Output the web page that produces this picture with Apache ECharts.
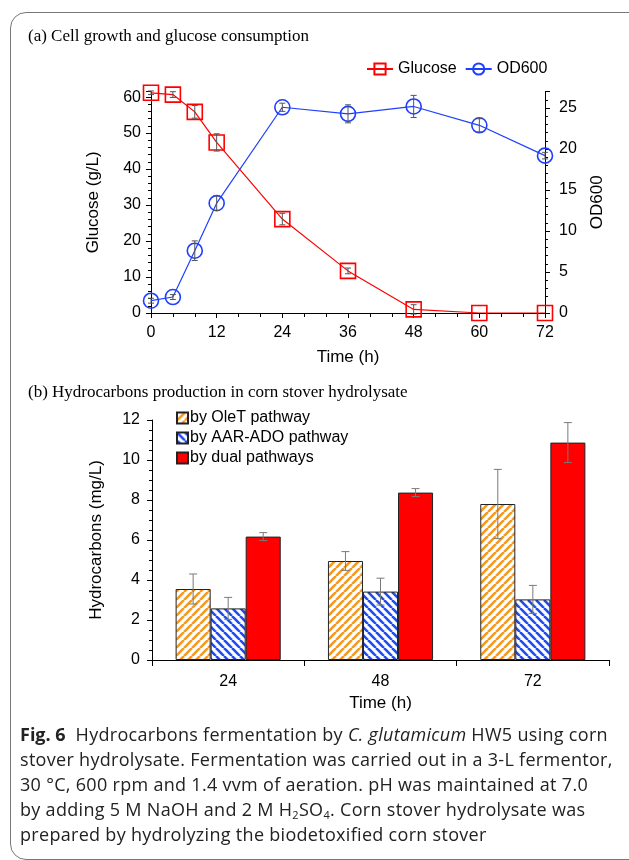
<!DOCTYPE html>
<html>
<head>
<meta charset="utf-8">
<script src="https://cdn.jsdelivr.net/npm/echarts@6/dist/echarts.min.js"></script>
<style>
  html, body { margin: 0; padding: 0; background: #fff; }
  #frame { position: absolute; left: 10px; top: 12px; width: 660px; height: 846px;
           border: 1.5px solid #777; border-radius: 16px; }
  #chart { position: absolute; left: 0; top: 0; width: 629px; height: 860px; }
  #caption { position: absolute; left: 20px; top: 722px; width: 605px;
             font-family: "Open Sans", sans-serif; font-size: 18px; line-height: 25px;
             color: #222; letter-spacing: 0.3px; white-space: nowrap; }
  #caption b { font-weight: 700; letter-spacing: 0; }
  #caption sub { font-size: 11px; line-height: 0; vertical-align: -3px; }
</style>
</head>
<body>
<div id="frame"></div>
<div id="chart"></div>
<div id="caption">
  <b>Fig. 6</b>&nbsp; Hydrocarbons fermentation by <i>C. glutamicum</i> HW5 using corn<br>
  stover hydrolysate. Fermentation was carried out in a 3-L fermentor,<br>
  30 °C, 600 rpm and 1.4 vvm of aeration. pH was maintained at 7.0<br>
  by adding 5 M NaOH and 2 M H<sub>2</sub>SO<sub>4</sub>. Corn stover hydrolysate was<br>
  prepared by hydrolyzing the biodetoxified corn stover
</div>
<script>
// (a) time course
var times = [0, 4, 8, 12, 24, 36, 48, 60, 72];
var glucose = [61.2, 60.7, 55.9, 47.4, 26.1, 11.7, 1.0, 0, 0];
var glucoseErr = [0.5, 0.8, 1.75, 2.4, 1.6, 0.8, 1.3, 0, 0];
var od600 = [1.5, 1.95, 7.6, 13.4, 25.1, 24.3, 25.2, 22.9, 19.2];
var od600Err = [0.3, 0.3, 1.2, 0.9, 0.5, 1.1, 1.35, 0.8, 0.4];

// (b) hydrocarbons
var hcTimes = ['24', '48', '72'];
var oleT = [3.55, 4.95, 7.8];
var oleTErr = [0.75, 0.47, 1.73];
var aarAdo = [2.58, 3.42, 3.03];
var aarAdoErr = [0.55, 0.67, 0.7];
var dual = [6.17, 8.37, 10.87];
var dualErr = [0.2, 0.2, 1.0];

var FONT = '"Liberation Sans", Arial, sans-serif';
var SERIF = '"Liberation Serif", "Times New Roman", serif';

function stripes(color, dir) {
  var c = document.createElement('canvas');
  c.width = 8; c.height = 8;
  var g = c.getContext('2d');
  g.fillStyle = '#fff';
  g.fillRect(0, 0, 8, 8);
  g.strokeStyle = color;
  g.lineWidth = 2.6;
  for (var i = -1; i <= 1; i++) {
    g.beginPath();
    if (dir > 0) { g.moveTo(i * 8, 8); g.lineTo(i * 8 + 8, 0); }
    else { g.moveTo(i * 8, 0); g.lineTo(i * 8 + 8, 8); }
    g.stroke();
  }
  return { image: c, repeat: 'repeat' };
}

function pairs(xs, ys, es) {
  return xs.map(function (x, i) { return [x, ys[i], es[i]]; });
}

function errLines(hi, lo, w, color) {
  var st = { stroke: color, lineWidth: 1 };
  return {
    type: 'group',
    children: [
      { type: 'line', shape: { x1: hi[0], y1: hi[1], x2: lo[0], y2: lo[1] }, style: st },
      { type: 'line', shape: { x1: hi[0] - w, y1: hi[1], x2: hi[0] + w, y2: hi[1] }, style: st },
      { type: 'line', shape: { x1: lo[0] - w, y1: lo[1], x2: lo[0] + w, y2: lo[1] }, style: st }
    ]
  };
}

function lineErr(params, api) {
  var x = api.value(0), y = api.value(1), e = api.value(2);
  if (!e) return null;
  return errLines(api.coord([x, y + e]), api.coord([x, y - e]), 3, '#555');
}

function barErr(k) {
  return function (params, api) {
    var c = api.value(0), y = api.value(1), e = api.value(2);
    var band = api.size([1, 0])[0];
    var bw = band * 0.69 / 3;
    var dx = (k - 1) * bw;
    var hi = api.coord([c, y + e]), lo = api.coord([c, y - e]);
    hi[0] += dx; lo[0] += dx;
    return errLines(hi, lo, 4, '#7a7a7a');
  };
}

var axisBlack = { lineStyle: { color: '#000', width: 1 } };
var tickStyle = { show: true, length: 5, lineStyle: { color: '#000' } };
var labelStyle = { color: '#000', fontSize: 16, fontFamily: FONT };
var nameStyle = { fontFamily: FONT, fontSize: 17, color: '#000' };

var chart = echarts.init(document.getElementById('chart'), null, { renderer: 'canvas' });
var option = {
  animation: false,
  title: [
    { text: '(a) Cell growth and glucose consumption', left: 28, top: 28, padding: 0,
      textStyle: { fontFamily: SERIF, fontSize: 17, fontWeight: 'normal', color: '#000' } },
    { text: '(b) Hydrocarbons production in corn stover hydrolysate', left: 28, top: 384, padding: 0,
      textStyle: { fontFamily: SERIF, fontSize: 17, fontWeight: 'normal', color: '#000' } }
  ],
  legend: [
    { data: ['Glucose', 'OD600'], left: 366, top: 61, itemWidth: 26, itemHeight: 14, itemGap: 8,
      textStyle: { fontFamily: FONT, fontSize: 16, color: '#000' }, padding: 0 },
    { data: ['by OleT pathway', 'by AAR-ADO pathway', 'by dual pathways'], left: 176, top: 410,
      orient: 'vertical', itemWidth: 11, itemHeight: 11, itemGap: 4, icon: 'rect', padding: 0,
      textStyle: { fontFamily: FONT, fontSize: 16, color: '#000', padding: [0, 0, 0, -3] } }
  ],
  grid: [
    { left: 151, right: 84, top: 91.7, bottom: 547 },
    { left: 152, right: 20, top: 420, bottom: 200 }
  ],
  xAxis: [
    { type: 'value', gridIndex: 0, min: 0, max: 72, interval: 12,
      axisLine: axisBlack, axisTick: tickStyle, axisLabel: Object.assign({ margin: 12 }, labelStyle),
      minorTick: { show: true, splitNumber: 3, length: 4, lineStyle: { color: '#000' } },
      splitLine: { show: false },
      name: 'Time (h)', nameLocation: 'middle', nameGap: 36, nameTextStyle: nameStyle },
    { type: 'category', gridIndex: 1, data: hcTimes,
      axisLine: axisBlack, axisTick: { show: true, length: 6, lineStyle: { color: '#000' } },
      axisLabel: Object.assign({ margin: 14 }, labelStyle),
      name: 'Time (h)', nameLocation: 'middle', nameGap: 35, nameTextStyle: nameStyle }
  ],
  yAxis: [
    { type: 'value', gridIndex: 0, min: 0, max: 61.5, interval: 10,
      axisLine: { show: true, lineStyle: { color: '#000' } }, axisTick: tickStyle,
      axisLabel: Object.assign({ margin: 10, showMaxLabel: false }, labelStyle),
      minorTick: { show: true, splitNumber: 5, length: 3, lineStyle: { color: '#000' } },
      splitLine: { show: false },
      name: 'Glucose (g/L)', nameLocation: 'middle', nameGap: 49, nameTextStyle: nameStyle },
    { type: 'value', gridIndex: 0, min: 0, max: 27, interval: 5, position: 'right',
      axisLine: { show: true, lineStyle: { color: '#000' } }, axisTick: tickStyle,
      axisLabel: Object.assign({ margin: 14, showMaxLabel: false }, labelStyle),
      minorTick: { show: true, splitNumber: 5, length: 3, lineStyle: { color: '#000' } },
      splitLine: { show: false },
      name: 'OD600', nameLocation: 'middle', nameGap: 44, nameTextStyle: nameStyle },
    { type: 'value', gridIndex: 1, min: 0, max: 12, interval: 2,
      axisLine: { show: true, lineStyle: { color: '#000' } }, axisTick: tickStyle,
      axisLabel: Object.assign({ margin: 12 }, labelStyle),
      minorTick: { show: true, splitNumber: 4, length: 3, lineStyle: { color: '#000' } },
      splitLine: { show: false },
      name: 'Hydrocarbons (mg/L)', nameLocation: 'middle', nameGap: 47, nameTextStyle: nameStyle }
  ],
  series: [
    { name: 'Glucose', type: 'line', xAxisIndex: 0, yAxisIndex: 0,
      data: times.map(function (t, i) { return [t, glucose[i]]; }),
      symbol: 'rect', symbolSize: 15,
      lineStyle: { color: '#ff0000', width: 1.2 },
      itemStyle: { color: 'rgba(255,255,255,0)', borderColor: '#ff0000', borderWidth: 1.6 } },
    { name: 'OD600', type: 'line', xAxisIndex: 0, yAxisIndex: 1,
      data: times.map(function (t, i) { return [t, od600[i]]; }),
      symbol: 'circle', symbolSize: 15,
      lineStyle: { color: '#1f3fff', width: 1.2 },
      itemStyle: { color: 'rgba(255,255,255,0)', borderColor: '#1f3fff', borderWidth: 1.6 } },
    { type: 'custom', xAxisIndex: 0, yAxisIndex: 0, renderItem: lineErr,
      data: pairs(times, glucose, glucoseErr), z: 5 },
    { type: 'custom', xAxisIndex: 0, yAxisIndex: 1, renderItem: lineErr,
      data: pairs(times, od600, od600Err), z: 5 },

    { name: 'by OleT pathway', type: 'bar', xAxisIndex: 1, yAxisIndex: 2, data: oleT,
      barGap: '0%', barCategoryGap: '31%',
      itemStyle: { color: stripes('#f59a1f', 1), borderColor: '#222', borderWidth: 1 } },
    { name: 'by AAR-ADO pathway', type: 'bar', xAxisIndex: 1, yAxisIndex: 2, data: aarAdo,
      barGap: '0%', barCategoryGap: '31%',
      itemStyle: { color: stripes('#1f4cf2', -1), borderColor: '#222', borderWidth: 1 } },
    { name: 'by dual pathways', type: 'bar', xAxisIndex: 1, yAxisIndex: 2, data: dual,
      barGap: '0%', barCategoryGap: '31%',
      itemStyle: { color: '#ff0000', borderColor: '#222', borderWidth: 1 } },
    { type: 'custom', xAxisIndex: 1, yAxisIndex: 2, renderItem: barErr(0),
      data: pairs([0, 1, 2], oleT, oleTErr), z: 5 },
    { type: 'custom', xAxisIndex: 1, yAxisIndex: 2, renderItem: barErr(1),
      data: pairs([0, 1, 2], aarAdo, aarAdoErr), z: 5 },
    { type: 'custom', xAxisIndex: 1, yAxisIndex: 2, renderItem: barErr(2),
      data: pairs([0, 1, 2], dual, dualErr), z: 5 }
  ]
};
chart.setOption(option);
</script>
</body>
</html>
